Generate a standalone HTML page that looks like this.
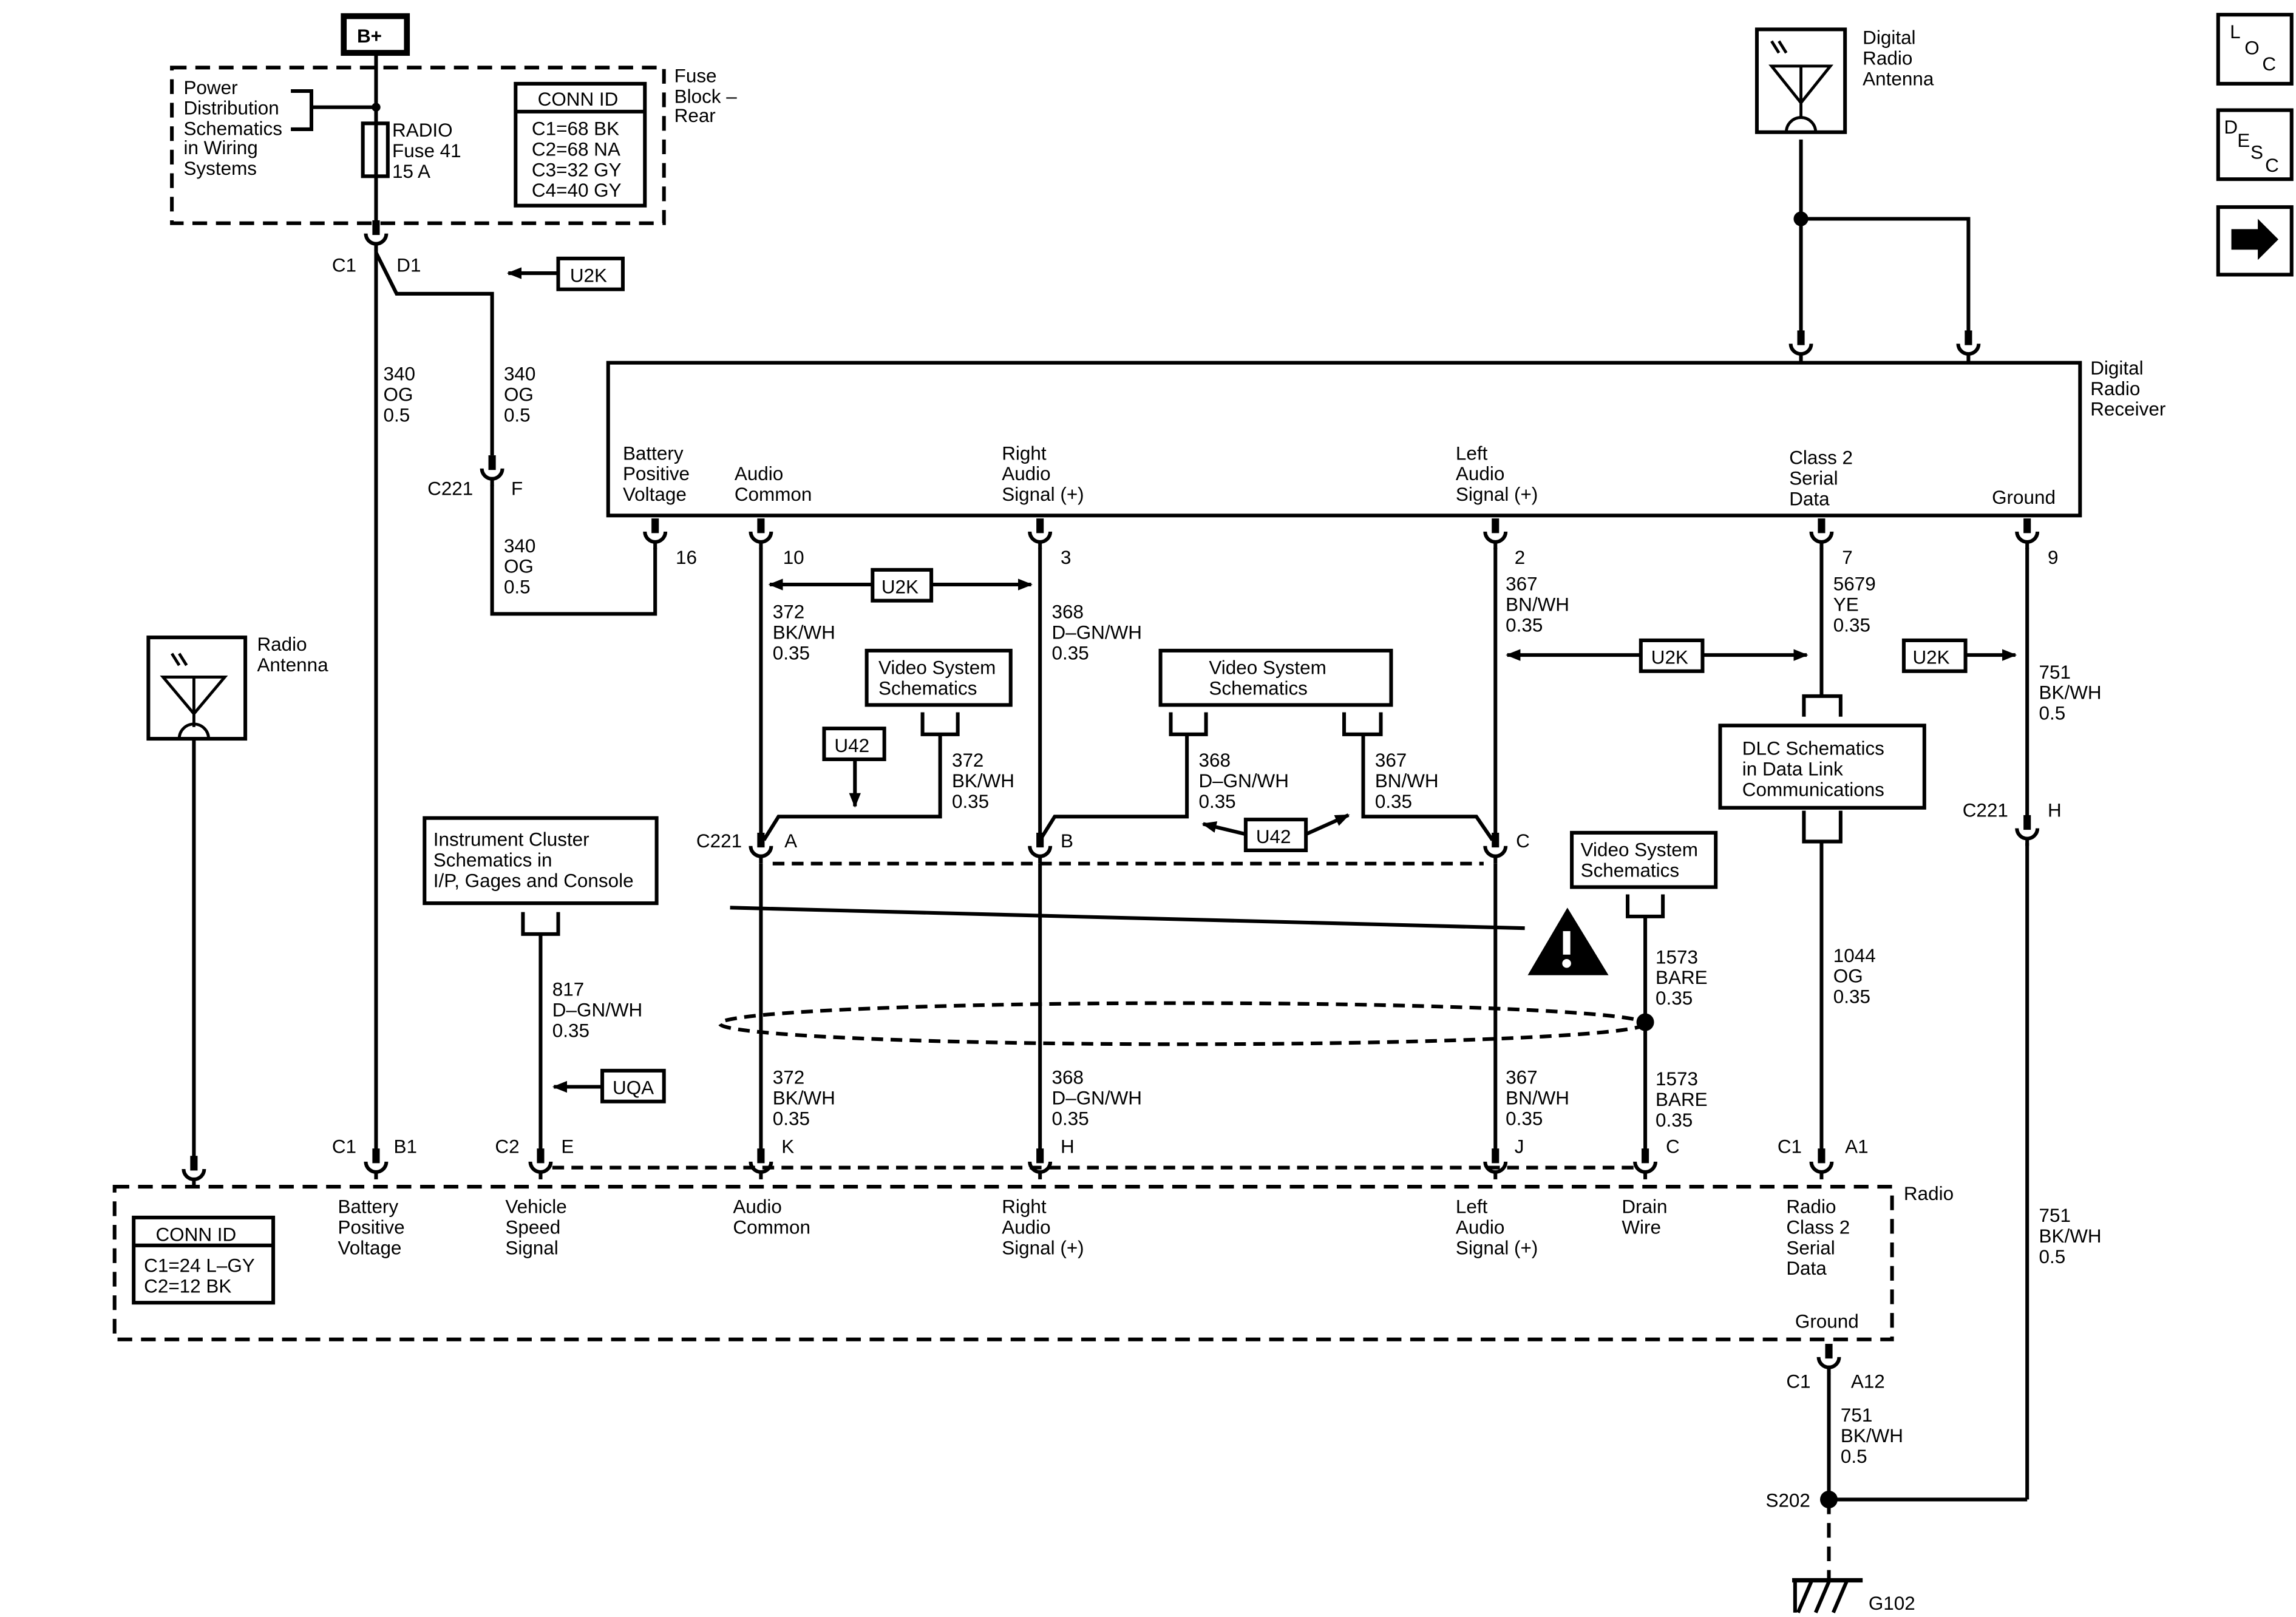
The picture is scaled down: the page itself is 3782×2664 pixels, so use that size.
<!DOCTYPE html>
<html><head><meta charset="utf-8"><style>
html,body{margin:0;padding:0;background:#fff}
svg{display:block}
text{font-family:"Liberation Sans",Arial,sans-serif;font-size:13px;fill:#000}
</style></head><body>
<svg width="3782" height="2664" viewBox="0 0 1563 1101" preserveAspectRatio="none" xmlns="http://www.w3.org/2000/svg">
<defs>
<g id="cn"><rect x="-2.5" y="-13" width="5" height="10" fill="#000"/><path d="M-7,-4 A7,7 0 0 0 7,-4" fill="none" stroke="#000" stroke-width="2.5"/><line x1="0" y1="3" x2="0" y2="8" stroke="#000" stroke-width="2.5"/></g>
<marker id="ah" markerWidth="10" markerHeight="8" refX="9" refY="4" orient="auto" markerUnits="userSpaceOnUse"><path d="M0,0 L10,4 L0,8 z" fill="#000"/></marker>
</defs>
<g fill="none" stroke="#000" stroke-width="2.5">
<rect x="234" y="11" width="43" height="25" stroke-width="4"/>
<line x1="256" y1="36" x2="256" y2="150"/>
<rect x="117" y="46" width="335" height="106" stroke-dasharray="10,6"/>
<path d="M198,62 H212 V88 H198"/><line x1="212" y1="73" x2="256" y2="73"/>
<rect x="247" y="84" width="17" height="36"/>
<rect x="351" y="57" width="88" height="83"/><line x1="351" y1="76" x2="439" y2="76"/>
<line x1="256" y1="170" x2="256" y2="783"/>
<path d="M256,172 L270,200 H335 V310"/>
<path d="M335,330 V418 H446 V373"/>
<rect x="414" y="247" width="1002" height="104"/>
<rect x="1196" y="20" width="60" height="70"/>
<line x1="1226" y1="95" x2="1226" y2="226"/><path d="M1226,149 H1340 V226"/>
<rect x="101" y="434" width="66" height="69"/>
<line x1="132" y1="503" x2="132" y2="788"/>
<line x1="518" y1="373" x2="518" y2="570"/>
<line x1="708" y1="373" x2="708" y2="570"/>
<line x1="1018" y1="373" x2="1018" y2="570"/>
<line x1="1240" y1="373" x2="1240" y2="474"/>
<line x1="1380" y1="373" x2="1380" y2="556"/>
<line x1="1380" y1="574" x2="1380" y2="1021"/>
<path d="M640,500 V556 H530 L520,572"/>
<path d="M808,500 V556 H718 L708,572"/>
<path d="M928,500 V556 H1005 L1016,572"/>
<line x1="518" y1="588" x2="518" y2="783"/>
<line x1="708" y1="588" x2="708" y2="783"/>
<line x1="1018" y1="588" x2="1018" y2="783"/>
<line x1="1240" y1="573" x2="1240" y2="783"/>
<line x1="1120" y1="624" x2="1120" y2="783"/>
<line x1="368" y1="636" x2="368" y2="783"/>
<rect x="590" y="443" width="98" height="37"/><path d="M628,485 V500 H652 V485"/>
<rect x="790" y="443" width="157" height="37"/><path d="M797,485 V500 H821 V485"/><path d="M915,485 V500 H940 V485"/>
<rect x="561" y="496" width="41" height="21"/>
<rect x="848" y="558" width="41" height="21"/>
<rect x="594" y="388" width="40" height="21"/>
<rect x="1117" y="436" width="42" height="21"/>
<rect x="1296" y="436" width="42" height="21"/>
<rect x="380" y="176" width="44" height="21"/>
<rect x="410" y="729" width="42" height="21"/>
<rect x="1171" y="494" width="139" height="56"/><path d="M1228,488 V474 H1253 V488"/><path d="M1228,552 V573 H1253 V552"/>
<rect x="1070" y="567" width="98" height="37"/><path d="M1108,609 V624 H1132 V609"/>
<rect x="289" y="557" width="158" height="58"/><path d="M356,621 V636 H380 V621"/>
<line x1="594" y1="398" x2="524" y2="398" marker-end="url(#ah)"/>
<line x1="634" y1="398" x2="702" y2="398" marker-end="url(#ah)"/>
<line x1="1117" y1="446" x2="1026" y2="446" marker-end="url(#ah)"/>
<line x1="1159" y1="446" x2="1230" y2="446" marker-end="url(#ah)"/>
<line x1="1338" y1="446" x2="1372" y2="446" marker-end="url(#ah)"/>
<line x1="380" y1="186" x2="346" y2="186" marker-end="url(#ah)"/>
<line x1="410" y1="740" x2="377" y2="740" marker-end="url(#ah)"/>
<line x1="582" y1="517" x2="582" y2="549" marker-end="url(#ah)"/>
<line x1="848" y1="568" x2="819" y2="561" marker-end="url(#ah)"/>
<line x1="889" y1="568" x2="918" y2="555" marker-end="url(#ah)"/>
<line x1="526" y1="588" x2="1010" y2="588" stroke-dasharray="8,5"/>
<line x1="376" y1="795" x2="1112" y2="795" stroke-dasharray="8,5"/>
<line x1="497" y1="618" x2="1038" y2="632"/>
<ellipse cx="805" cy="697" rx="315" ry="14" stroke-dasharray="8,5"/>
<rect x="78" y="808" width="1210" height="104" stroke-dasharray="10,6"/>
<rect x="91" y="829" width="95" height="58"/><line x1="91" y1="848" x2="186" y2="848"/>
<line x1="1245" y1="935" x2="1245" y2="1021"/>
<line x1="1245" y1="1021" x2="1380" y2="1021"/>
<line x1="1245" y1="1021" x2="1245" y2="1075" stroke-dasharray="10,6"/>
<line x1="1220" y1="1076" x2="1268" y2="1076" stroke-width="3"/>
<path d="M1224,1098 L1233,1077 M1236,1098 L1245,1077 M1248,1098 L1257,1077 M1222,1076 V1098"/>
<rect x="1510" y="10" width="50" height="47"/>
<rect x="1510" y="75" width="50" height="47"/>
<rect x="1510" y="141" width="50" height="46"/>
</g>
<path d="M1519,156 H1537 V149 L1551,163 L1537,177 V170 H1519 z" fill="#000"/>
<g fill="none" stroke="#000" stroke-width="2">
<path d="M1206,45 L1226,70 L1246,45 Z M1226,45 V80"/><path d="M1216,90 A10,10 0 0 1 1236,90"/>
<path d="M111,461 L132,486 L153,461 Z M132,461 V495"/><path d="M122,503 A10,10 0 0 1 142,503"/>
<path d="M1206,28 l5,8 M1211,28 l5,8 M117,445 l5,8 M122,445 l5,8"/>
</g>
<g fill="#000">
<circle cx="256" cy="73" r="3"/><circle cx="1226" cy="149" r="5"/><circle cx="1120" cy="696" r="6"/><circle cx="1245" cy="1021" r="6"/>
<path d="M1067,618 L1040,664 H1095 Z"/>
</g>
<rect x="1064" y="634" width="5" height="16" fill="#fff"/><circle cx="1066.5" cy="656" r="3" fill="#fff"/>
<g>
<use href="#cn" x="256" y="163"/>
<use href="#cn" x="335" y="323"/>
<use href="#cn" x="446" y="366"/><use href="#cn" x="518" y="366"/><use href="#cn" x="708" y="366"/><use href="#cn" x="1018" y="366"/><use href="#cn" x="1240" y="366"/><use href="#cn" x="1380" y="366"/>
<use href="#cn" x="1226" y="238"/><use href="#cn" x="1340" y="238"/>
<use href="#cn" x="518" y="580"/><use href="#cn" x="708" y="580"/><use href="#cn" x="1018" y="580"/><use href="#cn" x="1380" y="568"/>
<use href="#cn" x="132" y="800"/>
<use href="#cn" x="256" y="795"/><use href="#cn" x="368" y="795"/><use href="#cn" x="518" y="795"/><use href="#cn" x="708" y="795"/><use href="#cn" x="1018" y="795"/><use href="#cn" x="1120" y="795"/><use href="#cn" x="1240" y="795"/>
<use href="#cn" x="1245" y="928"/>
</g>
<text x="243" y="29" font-weight="bold">B+</text>
<text x="459" y="56">Fuse</text><text x="459" y="70">Block –</text><text x="459" y="83">Rear</text>
<text x="125" y="64">Power</text><text x="125" y="78">Distribution</text><text x="125" y="92">Schematics</text><text x="125" y="105">in Wiring</text><text x="125" y="119">Systems</text>
<text x="267" y="93">RADIO</text><text x="267" y="107">Fuse 41</text><text x="267" y="121">15 A</text>
<text x="366" y="72">CONN ID</text><text x="362" y="92">C1=68 BK</text><text x="362" y="106">C2=68 NA</text><text x="362" y="120">C3=32 GY</text><text x="362" y="134">C4=40 GY</text>
<text x="226" y="185">C1</text><text x="270" y="185">D1</text>
<text x="388" y="192">U2K</text>
<text x="261" y="259">340</text><text x="261" y="273">OG</text><text x="261" y="287">0.5</text>
<text x="343" y="259">340</text><text x="343" y="273">OG</text><text x="343" y="287">0.5</text>
<text x="291" y="337">C221</text><text x="348" y="337">F</text>
<text x="343" y="376">340</text><text x="343" y="390">OG</text><text x="343" y="404">0.5</text>
<text x="1268" y="30">Digital</text><text x="1268" y="44">Radio</text><text x="1268" y="58">Antenna</text>
<text x="1423" y="255">Digital</text><text x="1423" y="269">Radio</text><text x="1423" y="283">Receiver</text>
<text x="424" y="313">Battery</text><text x="424" y="327">Positive</text><text x="424" y="341">Voltage</text>
<text x="500" y="327">Audio</text><text x="500" y="341">Common</text>
<text x="682" y="313">Right</text><text x="682" y="327">Audio</text><text x="682" y="341">Signal (+)</text>
<text x="991" y="313">Left</text><text x="991" y="327">Audio</text><text x="991" y="341">Signal (+)</text>
<text x="1218" y="316">Class 2</text><text x="1218" y="330">Serial</text><text x="1218" y="344">Data</text>
<text x="1356" y="343">Ground</text>
<text x="460" y="384">16</text><text x="533" y="384">10</text><text x="722" y="384">3</text><text x="1031" y="384">2</text><text x="1254" y="384">7</text><text x="1394" y="384">9</text>
<text x="600" y="404">U2K</text><text x="1124" y="452">U2K</text><text x="1302" y="452">U2K</text>
<text x="526" y="421">372</text><text x="526" y="435">BK/WH</text><text x="526" y="449">0.35</text>
<text x="716" y="421">368</text><text x="716" y="435">D–GN/WH</text><text x="716" y="449">0.35</text>
<text x="1025" y="402">367</text><text x="1025" y="416">BN/WH</text><text x="1025" y="430">0.35</text>
<text x="1248" y="402">5679</text><text x="1248" y="416">YE</text><text x="1248" y="430">0.35</text>
<text x="1388" y="462">751</text><text x="1388" y="476">BK/WH</text><text x="1388" y="490">0.5</text>
<text x="175" y="443">Radio</text><text x="175" y="457">Antenna</text>
<text x="598" y="459">Video System</text><text x="598" y="473">Schematics</text>
<text x="823" y="459">Video System</text><text x="823" y="473">Schematics</text>
<text x="568" y="512">U42</text><text x="855" y="574">U42</text>
<text x="648" y="522">372</text><text x="648" y="536">BK/WH</text><text x="648" y="550">0.35</text>
<text x="816" y="522">368</text><text x="816" y="536">D–GN/WH</text><text x="816" y="550">0.35</text>
<text x="936" y="522">367</text><text x="936" y="536">BN/WH</text><text x="936" y="550">0.35</text>
<text x="1186" y="514">DLC Schematics</text><text x="1186" y="528">in Data Link</text><text x="1186" y="542">Communications</text>
<text x="1336" y="556">C221</text><text x="1394" y="556">H</text>
<text x="474" y="577">C221</text><text x="534" y="577">A</text><text x="722" y="577">B</text><text x="1032" y="577">C</text>
<text x="295" y="576">Instrument Cluster</text><text x="295" y="590">Schematics in</text><text x="295" y="604">I/P, Gages and Console</text>
<text x="1076" y="583">Video System</text><text x="1076" y="597">Schematics</text>
<text x="1127" y="656">1573</text><text x="1127" y="670">BARE</text><text x="1127" y="684">0.35</text>
<text x="1248" y="655">1044</text><text x="1248" y="669">OG</text><text x="1248" y="683">0.35</text>
<text x="376" y="678">817</text><text x="376" y="692">D–GN/WH</text><text x="376" y="706">0.35</text>
<text x="417" y="745">UQA</text>
<text x="526" y="738">372</text><text x="526" y="752">BK/WH</text><text x="526" y="766">0.35</text>
<text x="716" y="738">368</text><text x="716" y="752">D–GN/WH</text><text x="716" y="766">0.35</text>
<text x="1025" y="738">367</text><text x="1025" y="752">BN/WH</text><text x="1025" y="766">0.35</text>
<text x="1127" y="739">1573</text><text x="1127" y="753">BARE</text><text x="1127" y="767">0.35</text>
<text x="226" y="785">C1</text><text x="268" y="785">B1</text><text x="337" y="785">C2</text><text x="382" y="785">E</text>
<text x="532" y="785">K</text><text x="722" y="785">H</text><text x="1031" y="785">J</text><text x="1134" y="785">C</text>
<text x="1210" y="785">C1</text><text x="1256" y="785">A1</text>
<text x="1296" y="817">Radio</text>
<text x="230" y="826">Battery</text><text x="230" y="840">Positive</text><text x="230" y="854">Voltage</text>
<text x="344" y="826">Vehicle</text><text x="344" y="840">Speed</text><text x="344" y="854">Signal</text>
<text x="499" y="826">Audio</text><text x="499" y="840">Common</text>
<text x="682" y="826">Right</text><text x="682" y="840">Audio</text><text x="682" y="854">Signal (+)</text>
<text x="991" y="826">Left</text><text x="991" y="840">Audio</text><text x="991" y="854">Signal (+)</text>
<text x="1104" y="826">Drain</text><text x="1104" y="840">Wire</text>
<text x="1216" y="826">Radio</text><text x="1216" y="840">Class 2</text><text x="1216" y="854">Serial</text><text x="1216" y="868">Data</text>
<text x="1222" y="904">Ground</text>
<text x="106" y="845">CONN ID</text><text x="98" y="866">C1=24 L–GY</text><text x="98" y="880">C2=12 BK</text>
<text x="1388" y="832">751</text><text x="1388" y="846">BK/WH</text><text x="1388" y="860">0.5</text>
<text x="1216" y="945">C1</text><text x="1260" y="945">A12</text>
<text x="1253" y="968">751</text><text x="1253" y="982">BK/WH</text><text x="1253" y="996">0.5</text>
<text x="1202" y="1026">S202</text><text x="1272" y="1096">G102</text>
<text x="1518" y="26" font-size="12">L</text><text x="1528" y="37" font-size="12">O</text><text x="1540" y="48" font-size="12">C</text>
<text x="1514" y="91" font-size="12">D</text><text x="1523" y="100" font-size="12">E</text><text x="1532" y="108" font-size="12">S</text><text x="1542" y="117" font-size="12">C</text>
</svg>
</body></html>
